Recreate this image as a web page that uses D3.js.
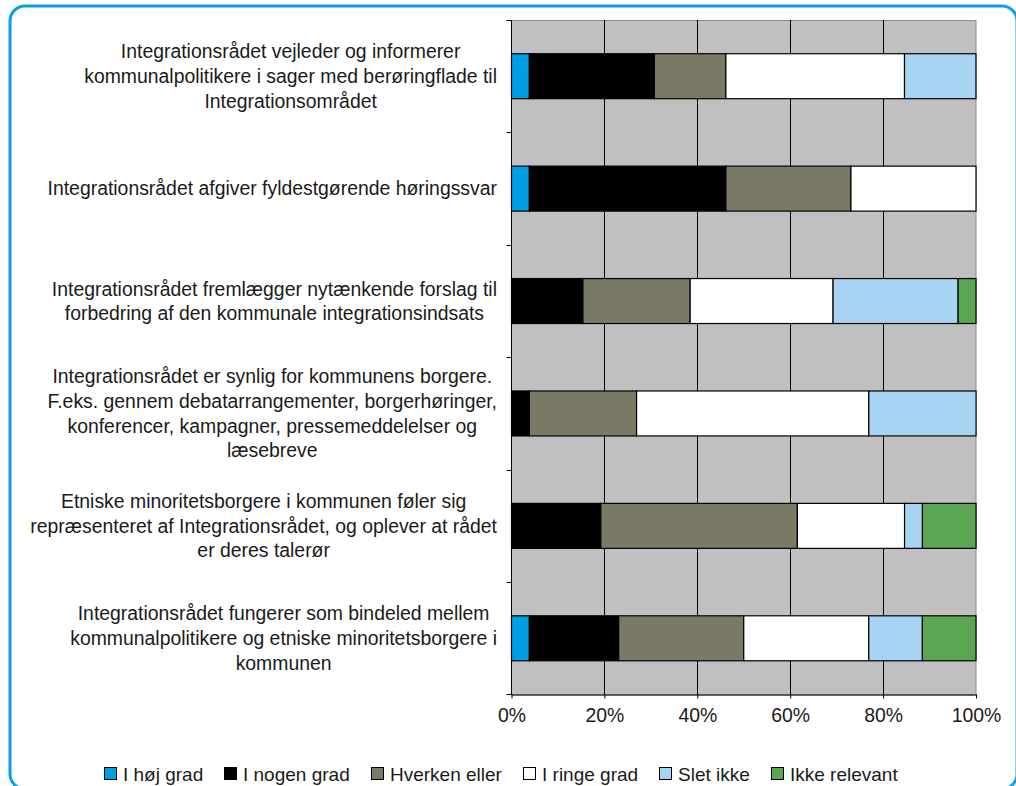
<!DOCTYPE html>
<html>
<head>
<meta charset="utf-8">
<script src="https://cdn.jsdelivr.net/npm/d3@7"></script>
<style>
  html, body { margin: 0; padding: 0; background: #fff; }
  svg { display: block; }
  text { font-family: "Liberation Sans", Arial, Helvetica, sans-serif; fill: #1a1a1a; }
</style>
</head>
<body>
<svg id="chart" width="1016" height="786"></svg>
<script>
// Statements (wrapped as in the original)
var categories = [
    ["Integrationsrådet vejleder og informerer", "kommunalpolitikere i sager med berøringflade til", "Integrationsområdet"],
    ["Integrationsrådet afgiver fyldestgørende høringssvar"],
    ["Integrationsrådet fremlægger nytænkende forslag til", "forbedring af den kommunale integrationsindsats"],
    ["Integrationsrådet er synlig for kommunens borgere.", "F.eks. gennem debatarrangementer, borgerhøringer,", "konferencer, kampagner, pressemeddelelser og", "læsebreve"],
    ["Etniske minoritetsborgere i kommunen føler sig", "repræsenteret af Integrationsrådet, og oplever at rådet", "er deres talerør"],
    ["Integrationsrådet fungerer som bindeled mellem", "kommunalpolitikere og etniske minoritetsborgere i", "kommunen"]
];

var seriesNames = ["I høj grad", "I nogen grad", "Hverken eller", "I ringe grad", "Slet ikke", "Ikke relevant"];
var seriesColors = ["#009fe3", "#000000", "#7a7a66", "#ffffff", "#a8d4f4", "#5ba653"];

// percent of answers, one array per series, in category order
var hojGrad      = [3.85, 3.85, 0, 0, 0, 3.85];
var nogenGrad    = [26.92, 42.31, 15.38, 3.85, 19.23, 19.23];
var hverkenEller = [15.38, 26.92, 23.08, 23.08, 42.31, 26.92];
var ringeGrad    = [38.46, 26.92, 30.77, 50.0, 23.08, 26.92];
var sletIkke     = [15.38, 0, 26.92, 23.08, 3.85, 11.54];
var ikkeRelevant = [0, 0, 3.85, 0, 11.54, 11.54];

var tickValues = [0, 20, 40, 60, 80, 100];

(function () {
    var svg = d3.select("#chart");

    // outer rounded frame (runs off the right and bottom edges)
    svg.append("rect")
        .attr("x", 10).attr("y", 6)
        .attr("width", 1007).attr("height", 783)
        .attr("rx", 15).attr("ry", 15)
        .attr("fill", "none")
        .attr("stroke", "#0aa0e2")
        .attr("stroke-width", 3);

    var plotLeft = 511.5, plotRight = 976, plotTop = 20, plotBottom = 694.5;

    var x = d3.scaleLinear().domain([0, 100]).range([plotLeft, plotRight]);
    var y = d3.scaleBand().domain(d3.range(categories.length)).range([plotTop, plotBottom]).padding(0);

    // plot background
    svg.append("rect")
        .attr("x", plotLeft).attr("y", plotTop + 0.5)
        .attr("width", plotRight - plotLeft).attr("height", plotBottom - plotTop)
        .attr("fill", "#c0c0c0")
        .attr("stroke", "#8c8c8c")
        .attr("stroke-width", 1);

    // vertical gridlines
    svg.append("g")
        .selectAll("line")
        .data(tickValues.slice(1, -1))
        .join("line")
        .attr("x1", d => Math.round(x(d)) + 0.5).attr("x2", d => Math.round(x(d)) + 0.5)
        .attr("y1", plotTop).attr("y2", plotBottom)
        .attr("stroke", "#000")
        .attr("stroke-width", 1);

    // stacked bars
    var rows = categories.map(function (c, i) {
        return {
            idx: i,
            s0: hojGrad[i], s1: nogenGrad[i], s2: hverkenEller[i],
            s3: ringeGrad[i], s4: sletIkke[i], s5: ikkeRelevant[i]
        };
    });
    var stacked = d3.stack().keys(["s0", "s1", "s2", "s3", "s4", "s5"])(rows);

    var barH = y.bandwidth() * 0.4;

    svg.append("g")
        .selectAll("g")
        .data(stacked)
        .join("g")
        .attr("fill", (d, i) => seriesColors[i])
        .selectAll("rect")
        .data(d => d.filter(p => p[1] - p[0] > 0))
        .join("rect")
        .attr("x", d => x(d[0]))
        .attr("width", d => x(d[1]) - x(d[0]))
        .attr("y", d => y(d.data.idx) + (y.bandwidth() - barH) / 2)
        .attr("height", barH)
        .attr("stroke", "#000")
        .attr("stroke-width", 1.2);

    // y axis line and ticks at band boundaries
    var yAxis = svg.append("g");
    yAxis.append("line")
        .attr("x1", plotLeft).attr("x2", plotLeft)
        .attr("y1", plotTop).attr("y2", plotBottom)
        .attr("stroke", "#000");
    yAxis.selectAll("line.tick")
        .data(d3.range(categories.length + 1))
        .join("line")
        .attr("class", "tick")
        .attr("x1", plotLeft - 5).attr("x2", plotLeft)
        .attr("y1", d => d === categories.length ? plotBottom : Math.round(y(d)) + 0.5)
        .attr("y2", d => d === categories.length ? plotBottom : Math.round(y(d)) + 0.5)
        .attr("stroke", "#000");

    // x axis
    var xAxis = d3.axisBottom(x)
        .tickValues(tickValues)
        .tickFormat(d => d + "%")
        .tickSizeInner(4)
        .tickSizeOuter(0)
        .tickPadding(10);

    var gx = svg.append("g")
        .attr("transform", "translate(0," + plotBottom + ")")
        .call(xAxis);
    gx.select(".domain").attr("stroke", "#000");
    gx.selectAll(".tick line").attr("stroke", "#000");
    gx.selectAll(".tick text")
        .attr("fill", "#1a1a1a")
        .style("font-size", "19.4px")
        .style("font-family", "'Liberation Sans', Arial, sans-serif");

    // category labels: block right-aligned to the axis, lines centred within block
    var fontSize = 19.4, lineH = 24.6, labelRight = 497;
    var labelG = svg.append("g");
    categories.forEach(function (lines, i) {
        var t = labelG.append("text")
            .attr("text-anchor", "middle")
            .style("font-size", fontSize + "px");
        var spans = lines.map(function (ln) {
            return t.append("tspan").text(ln);
        });
        var maxW = d3.max(spans, s => s.node().getComputedTextLength());
        var cx = labelRight - maxW / 2;
        var cy = y(i) + y.bandwidth() / 2;
        var firstBase = cy - (lines.length - 1) * lineH / 2 + fontSize * 0.35;
        spans.forEach(function (s, k) {
            s.attr("x", cx).attr("y", firstBase + k * lineH);
        });
    });

    // legend: spread between the two outer edges seen in the original
    var legendFont = 19, sq = 12, sqGap = 7, legendLeft = 104, legendRight = 898;
    var legend = svg.append("g").attr("transform", "translate(0,781)");
    var entries = seriesNames.map(function (name, i) {
        var g = legend.append("g");
        g.append("rect")
            .attr("x", 0.5).attr("y", -13.5)
            .attr("width", sq).attr("height", sq)
            .attr("fill", seriesColors[i])
            .attr("stroke", "#000").attr("stroke-width", 1);
        var tx = g.append("text")
            .attr("x", sq + sqGap).attr("y", 0)
            .style("font-size", legendFont + "px")
            .text(name);
        return { g: g, w: sq + sqGap + tx.node().getComputedTextLength() };
    });
    var used = d3.sum(entries, e => e.w);
    var gap = (legendRight - legendLeft - used) / (entries.length - 1);
    var lx = legendLeft;
    entries.forEach(function (e) {
        e.g.attr("transform", "translate(" + Math.round(lx) + ",0)");
        lx += e.w + gap;
    });
})();
</script>
</body>
</html>
